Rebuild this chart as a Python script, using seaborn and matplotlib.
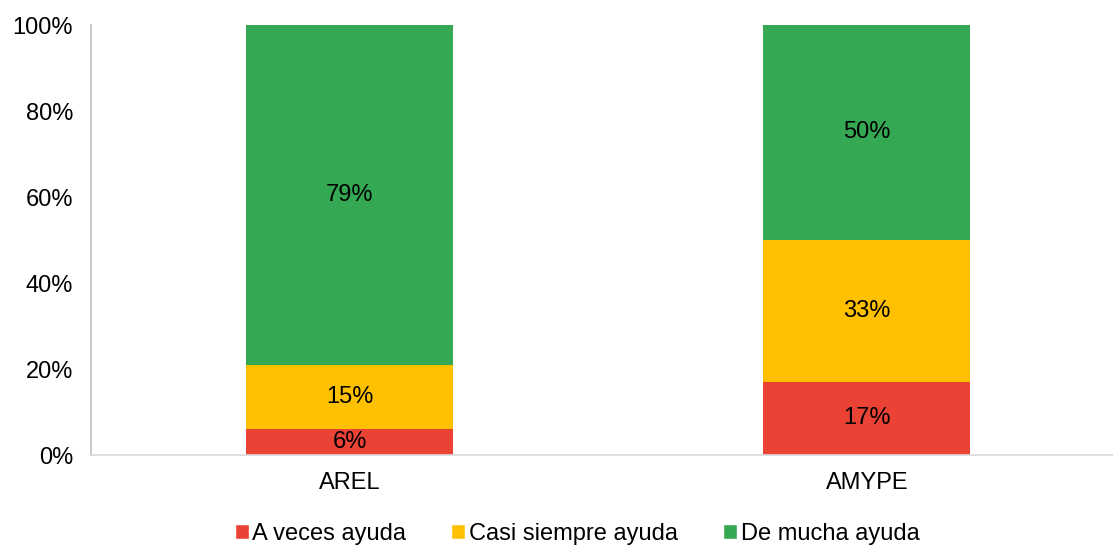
import matplotlib
matplotlib.use("Agg")
import matplotlib.pyplot as plt
import matplotlib.ticker as ticker
from matplotlib.patches import Patch
import numpy as np
import pandas as pd
import seaborn as sns

groups = ["AREL", "AMYPE"]
series = ["A veces ayuda", "Casi siempre ayuda", "De mucha ayuda"]
a_veces = [6, 17]
casi_siempre = [15, 33]
de_mucha = [79, 50]
colors = ["#EA4335", "#FFC000", "#34A853"]

values = [a_veces, casi_siempre, de_mucha]

sns.set_theme(style="white")
plt.rcParams["font.family"] = ["Liberation Sans", "DejaVu Sans"]

fig = plt.figure(figsize=(11.13, 5.47), dpi=100)
ax = fig.add_axes([91 / 1113, 92 / 547, 1 - 91 / 1113, 430 / 547])

cum = np.cumsum(values, axis=0)
# draw from the tallest cumulative stack down so each segment shows
for i in range(len(series) - 1, -1, -1):
    df = pd.DataFrame({"group": groups, "value": cum[i]})
    sns.barplot(data=df, x="group", y="value", color=colors[i], width=0.4,
                saturation=1, ax=ax, linewidth=0)

for i in range(len(series)):
    for j, g in enumerate(groups):
        mid = cum[i][j] - values[i][j] / 2
        ax.text(j, mid, f"{values[i][j]}%", ha="center", va="center",
                fontsize=17, color="#000000")

ax.set_xlim(-0.5, 1.476)
ax.set_ylim(0, 100)
ax.yaxis.set_major_locator(ticker.MultipleLocator(20))
ax.yaxis.set_major_formatter(ticker.FuncFormatter(lambda v, p: f"{v:.0f}%"))
ax.set_xlabel("")
ax.set_ylabel("")
ax.tick_params(axis="both", labelsize=17, colors="#000000", length=0)
ax.tick_params(axis="y", pad=13)
ax.tick_params(axis="x", pad=12)
for s in ["top", "right"]:
    ax.spines[s].set_visible(False)
ax.spines["left"].set_color("#BFBFBF")
ax.spines["bottom"].set_color("#D9D9D9")
ax.spines["left"].set_linewidth(1.2)
ax.spines["bottom"].set_linewidth(1.2)

handles = [Patch(facecolor=c, label=s) for c, s in zip(colors, series)]
fig.legend(handles=handles, loc="center", bbox_to_anchor=(577 / 1113, 1 - 534 / 547),
           ncol=3, frameon=False, fontsize=17, labelcolor="#000000",
           handlelength=0.6, handleheight=0.6,
           handletextpad=0.15, columnspacing=1.9)

fig.savefig("out.png", dpi=100)
